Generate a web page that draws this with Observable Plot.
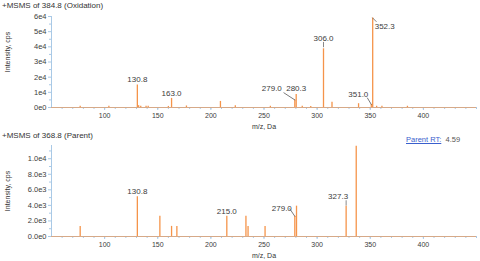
<!DOCTYPE html>
<html><head><meta charset="utf-8">
<script src="https://cdn.jsdelivr.net/npm/d3@7"></script>
<script src="https://cdn.jsdelivr.net/npm/@observablehq/plot@0.6"></script>
<style>
body{margin:0;background:#fff;font-family:"Liberation Sans",Arial,sans-serif;}
#wrap{position:relative;width:480px;height:261px;overflow:hidden;background:#fff;}
.t{position:absolute;white-space:nowrap;color:#333;line-height:1;}
#wrap svg{position:absolute;left:0;overflow:visible;}
</style></head><body><div id="wrap"></div>
<script>
// ---- data: MSMS of 384.8 (Oxidation)
const oxTitle = "+MSMS of 384.8 (Oxidation)";
const oxMz  = [77, 104, 130.8, 132, 134, 139, 141, 160, 163.0, 177, 209, 223, 256, 279.0, 280.3, 286, 294, 306.0, 314, 339, 351.0, 352.3, 356, 361, 385];
const oxInt = [900, 800, 14800, 1200, 800, 900, 800, 700, 6000, 1000, 4000, 1200, 800, 5000, 8500, 800, 700, 38700, 3500, 2500, 2000, 59000, 800, 900, 800];
const oxLabels = ["130.8", "163.0", "279.0", "280.3", "306.0", "351.0", "352.3"];
const oxYTicks = [0, 10000, 20000, 30000, 40000, 50000, 60000];

// ---- data: MSMS of 368.8 (Parent)
const paTitle = "+MSMS of 368.8 (Parent)";
const paMz  = [77, 130.8, 152, 163, 168, 215.0, 233, 235, 251, 279.0, 280.6, 327.3, 336.8];
const paInt = [1300, 5100, 2600, 1300, 1300, 2600, 2600, 1300, 1300, 2600, 3900, 3900, 11600];
const paLabels = ["130.8", "215.0", "279.0", "327.3"];
const paYTicks = [0, 2000, 4000, 6000, 8000, 10000];

const xTicks = [100, 150, 200, 250, 300, 350, 400];
const xLabel = "m/z, Da";
const yLabel = "Intensity, cps";
const parentRT = "4.59";

// ---- styles
const ORANGE = "#f5944a", BLUE = "#a9c9e6", TXT = "#3c3c3c";
const FONT = '"Liberation Sans", Arial, sans-serif';
const oxLabelStyle = {
  "130.8": {dx: 0, dy: -6},
  "163.0": {dx: 0, dy: -5},
  "279.0": {dx: -23, dy: -11},
  "280.3": {dx: 0, dy: -6},
  "306.0": {dx: 0, dy: -10},
  "351.0": {dx: -13, dy: -10},
  "352.3": {dx: 12, dy: 8}
};
const oxLeaders = {
  "279.0": {rotate: -57, length: 13, dy: 0},
  "306.0": {rotate: 0, length: 4.5, dy: -2},
  "351.0": {rotate: -31, length: 7.5, dy: 0},
  "352.3": {rotate: 135, length: 5, dy: 0}
};
const paLabelStyle = {
  "130.8": {dx: 0, dy: -5},
  "215.0": {dx: 0, dy: -5},
  "279.0": {dx: -13, dy: -8},
  "327.3": {dx: 2, dy: -10, anchor: "end"}
};
const paLeaders = {
  "279.0": {rotate: -34, length: 9, dy: 0},
  "327.3": {rotate: 0, length: 4.5, dy: -1}
};

const lineShape = {draw(ctx, l) { ctx.moveTo(0, 0); ctx.lineTo(0, -l); }};

function panel({mz, inten, labels, labelStyle, leaders, yDomain, yTicks, yMinor, fmt, height, marginTop, marginBottom}) {
  const data = mz.map((m, i) => ({mz: m, v: inten[i]}));
  const lab = labels.map(t => {
    const i = mz.findIndex(m => m.toFixed(1) === t);
    return {mz: mz[i], v: inten[i], t};
  });
  const marks = [
    Plot.ruleX([50], {stroke: BLUE}),
    Plot.ruleY([0], {stroke: BLUE}),
    Plot.axisX({ticks: d3.range(60, 451, 10), tickSize: 2, stroke: BLUE, fill: "none"}),
    Plot.axisX({ticks: xTicks, tickSize: 3, stroke: BLUE, fill: TXT, tickPadding: 3, fontSize: 7, tickFormat: d => d}),
    Plot.axisY({ticks: yMinor, tickSize: 2, stroke: BLUE, fill: "none"}),
    Plot.axisY({ticks: yTicks, tickSize: 3, stroke: BLUE, fill: TXT, tickPadding: 2, fontSize: 7.5, tickFormat: fmt}),
    Plot.ruleX(data, {x: "mz", y1: 0, y2: "v", stroke: ORANGE, strokeWidth: 1.3}),
    Plot.ruleY([0], {stroke: ORANGE, strokeOpacity: 0.6})
  ];
  for (const l of lab) {
    const s = labelStyle[l.t];
    marks.push(Plot.text([l], {x: "mz", y: "v", text: "t", dx: s.dx, dy: s.dy, textAnchor: s.anchor || "middle", fill: TXT, fontSize: 8}));
    const ld = leaders[l.t];
    if (ld) marks.push(Plot.vector([l], {x: "mz", y: "v", rotate: ld.rotate, length: ld.length, dy: ld.dy, anchor: "start", shape: lineShape, stroke: "#555", strokeWidth: 0.7}));
  }
  return Plot.plot({
    width: 480, height, marginLeft: 51, marginRight: 4, marginTop, marginBottom,
    style: {fontFamily: FONT, background: "transparent", overflow: "visible"},
    x: {domain: [50, 450], label: null},
    y: {domain: yDomain, label: null},
    marks
  });
}

const wrap = document.getElementById("wrap");
function addText(txt, left, top, css = "") {
  const d = document.createElement("div");
  d.className = "t"; d.textContent = txt; d.style.left = left + "px"; d.style.top = top + "px";
  d.style.cssText += css;
  wrap.appendChild(d); return d;
}

const p1 = panel({
  mz: oxMz, inten: oxInt, labels: oxLabels, labelStyle: oxLabelStyle, leaders: oxLeaders,
  yDomain: [0, 60000], yTicks: oxYTicks, yMinor: d3.range(5000, 60000, 10000),
  fmt: d => d === 0 ? "0e0" : (d / 1e4) + "e4",
  height: 130, marginTop: 16, marginBottom: 23
});
p1.style.top = "0px";
wrap.appendChild(p1);

const p2 = panel({
  mz: paMz, inten: paInt, labels: paLabels, labelStyle: paLabelStyle, leaders: paLeaders,
  yDomain: [0, 11700], yTicks: paYTicks, yMinor: d3.range(1000, 11700, 2000),
  fmt: d => d >= 1e4 ? (d / 1e4).toFixed(1) + "e4" : d === 0 ? "0.0e0" : (d / 1e3).toFixed(1) + "e3",
  height: 131, marginTop: 15, marginBottom: 25
});
p2.style.top = "130px";
wrap.appendChild(p2);

addText(oxTitle, 2, 2, "font-size:8px;");
addText(paTitle, 2, 132, "font-size:8px;");
addText(xLabel, 264, 123, "font-size:7px;transform:translateX(-50%);");
addText(xLabel, 264, 252, "font-size:7px;transform:translateX(-50%);");
addText(yLabel, 7, 52, "font-size:7px;transform:translate(-50%,-50%) rotate(-90deg);");
addText(yLabel, 7, 191, "font-size:7px;transform:translate(-50%,-50%) rotate(-90deg);");
const rt = addText("", 406, 136, "font-size:7.5px;");
rt.innerHTML = '<span style="color:#3a5fcd;text-decoration:underline">Parent RT:</span>&nbsp; <span style="color:#555">' + parentRT + '</span>';
</script></body></html>
